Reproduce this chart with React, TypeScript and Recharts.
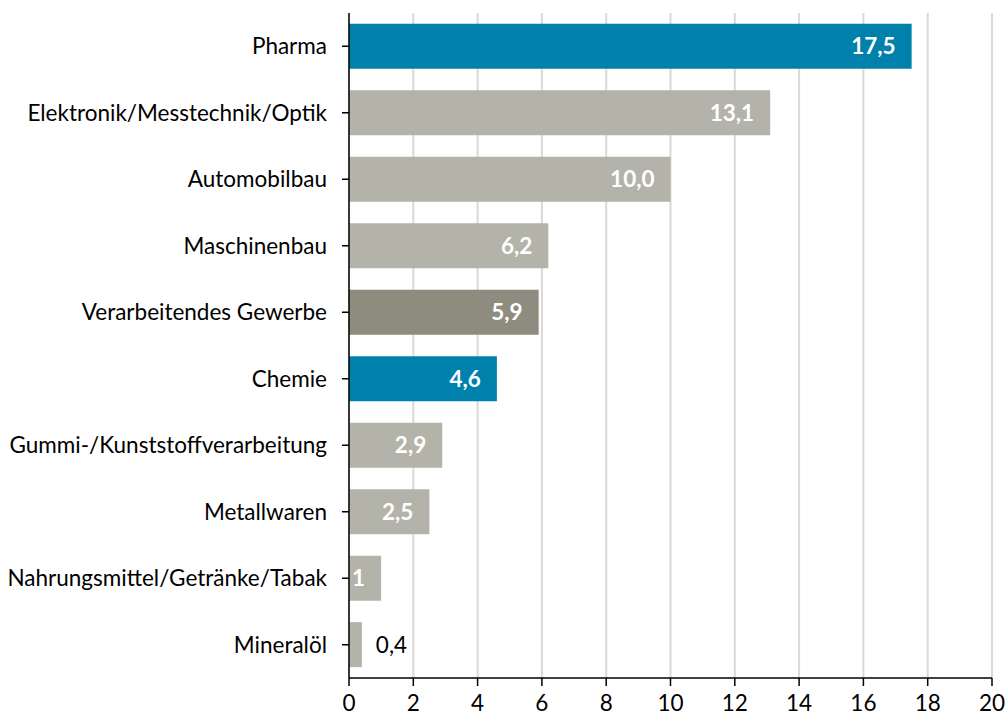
import React from "react";
import { BarChart, Bar, XAxis, YAxis, CartesianGrid, Cell, LabelList } from "recharts";

const categories = [
  "Pharma",
  "Elektronik/Messtechnik/Optik",
  "Automobilbau",
  "Maschinenbau",
  "Verarbeitendes Gewerbe",
  "Chemie",
  "Gummi-/Kunststoffverarbeitung",
  "Metallwaren",
  "Nahrungsmittel/Getränke/Tabak",
  "Mineralöl",
];
const values = [17.5, 13.1, 10.0, 6.2, 5.9, 4.6, 2.9, 2.5, 1, 0.4];
const valueLabels = ["17,5", "13,1", "10,0", "6,2", "5,9", "4,6", "2,9", "2,5", "1", "0,4"];
const colorKeys = ["blue", "gray", "gray", "gray", "dark", "blue", "gray", "gray", "gray", "gray"];
const xTicks = [0, 2, 4, 6, 8, 10, 12, 14, 16, 18, 20];

const palette: Record<string, string> = {
  blue: "#0081AC",
  gray: "#B4B3A9",
  dark: "#8E8C7F",
};

const data = categories.map((name, i) => ({
  name,
  value: values[i],
  label: valueLabels[i],
  color: palette[colorKeys[i]],
}));

const FONT = "Lato, 'Open Sans', sans-serif";
const FS = 22.5;

const ValueLabel = (props: any) => {
  const { x, y, width, height, index } = props;
  const d = data[index];
  const cy = y + height / 2;
  if (d.value < 0.8) {
    return (
      <text x={x + width + 14} y={cy} dy="0.36em" textAnchor="start" fill="#000" fontSize={FS} fontFamily={FONT}>
        {d.label}
      </text>
    );
  }
  return (
    <text x={x + width - 16} y={cy} dy="0.36em" textAnchor="end" fill="#fff" fontSize={FS} fontWeight="bold" fontFamily={FONT}>
      {d.label}
    </text>
  );
};

export default function App() {
  return (
    <div style={{ position: "fixed", top: 0, left: 0, width: 1006, height: 716, background: "#fff" }}>
      <BarChart
        width={1006}
        height={716}
        data={data}
        layout="vertical"
        margin={{ top: 13, right: 14, left: 0, bottom: 8 }}
        barCategoryGap="16%"
      >
        <CartesianGrid horizontal={false} vertical stroke="#D9D9D9" strokeWidth={2} />
        <XAxis
          type="number"
          domain={[0, 20]}
          ticks={xTicks}
          interval={0}
          height={30}
          axisLine={{ stroke: "#000", strokeWidth: 1.5 }}
          tickLine={{ stroke: "#000", strokeWidth: 1.5 }}
          tickSize={8}
          tickMargin={9}
          tick={{ fill: "#000", fontSize: FS, fontFamily: FONT }}
        />
        <YAxis
          yAxisId="cap"
          type="number"
          domain={[0, 1]}
          reversed
          ticks={[0]}
          width={0}
          axisLine={false}
          tickLine={{ stroke: "#000", strokeWidth: 1.5 }}
          tickSize={7}
          tickFormatter={() => ""}
        />
        <YAxis
          type="category"
          dataKey="name"
          width={349}
          interval={0}
          axisLine={{ stroke: "#000", strokeWidth: 1.5 }}
          tickLine={{ stroke: "#000", strokeWidth: 1.5 }}
          tickSize={7}
          tickMargin={15}
          tick={{ fill: "#000", fontSize: FS, fontFamily: FONT }}
        />
        <Bar dataKey="value" isAnimationActive={false}>
          {data.map((d, i) => (
            <Cell key={i} fill={d.color} />
          ))}
          <LabelList dataKey="label" content={ValueLabel} />
        </Bar>
      </BarChart>
    </div>
  );
}
